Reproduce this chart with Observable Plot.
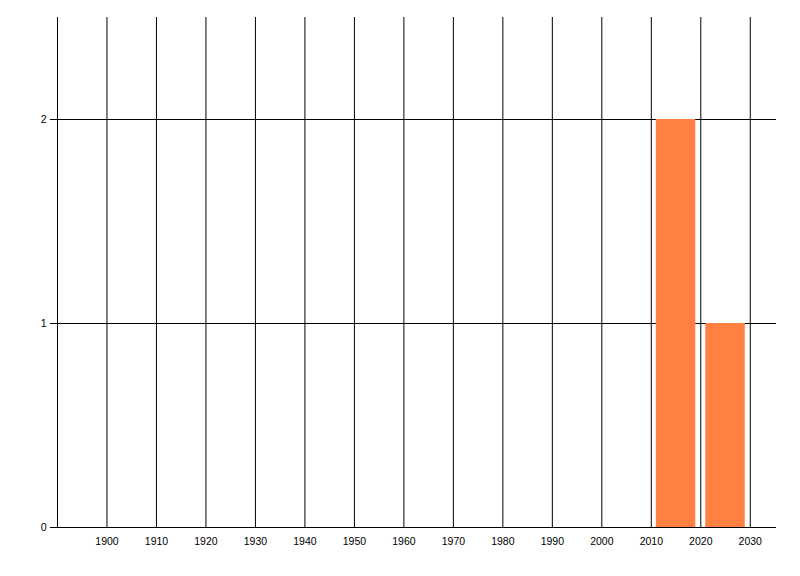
<!DOCTYPE html>
<html>
<head>
<meta charset="utf-8">
<script src="https://cdn.jsdelivr.net/npm/d3@7"></script>
<script src="https://cdn.jsdelivr.net/npm/@observablehq/plot@0.6"></script>
<style>
  html, body { margin: 0; padding: 0; background: #fff; }
</style>
</head>
<body>
<div id="chart"></div>
<script>
// Data
const binStarts = [2010, 2020];
const binEnds = [2020, 2030];
const counts = [2, 1];
const xTicks = [1900, 1910, 1920, 1930, 1940, 1950, 1960, 1970, 1980, 1990, 2000, 2010, 2020, 2030];
const yTicks = [0, 1, 2];
const xDomain = [1890, 2035.3];
const yDomain = [0, 2.5];

const bars = binStarts.map((s, i) => ({x1: s, x2: binEnds[i], count: counts[i]}));

const chart = Plot.plot({
  width: 800,
  height: 576,
  marginLeft: 57,
  marginRight: 24,
  marginTop: 17,
  marginBottom: 49,
  style: {fontFamily: "'Liberation Sans', Arial, sans-serif", fontSize: "10.5px", color: "#000", background: "#fff"},
  x: {domain: xDomain},
  y: {domain: yDomain},
  marks: [
    Plot.ruleX(xTicks, {stroke: "#000", strokeWidth: 1}),
    Plot.ruleY(yTicks, {stroke: "#000", strokeWidth: 1}),
    Plot.ruleX([xDomain[0]], {stroke: "#000", strokeWidth: 1}),
    Plot.rectY(bars, {x1: "x1", x2: "x2", y: "count", fill: "#ff8040", insetLeft: 5, insetRight: 5}),
    Plot.axisX(xTicks, {tickSize: 0, tickPadding: 10, label: null, tickFormat: d => String(d), fill: "#000"}),
    Plot.axisY(yTicks, {tickSize: 7, tickPadding: 4, label: null, tickFormat: d => String(d), stroke: "#000", fill: "#000"})
  ]
});
document.getElementById("chart").appendChild(chart);
</script>
</body>
</html>
